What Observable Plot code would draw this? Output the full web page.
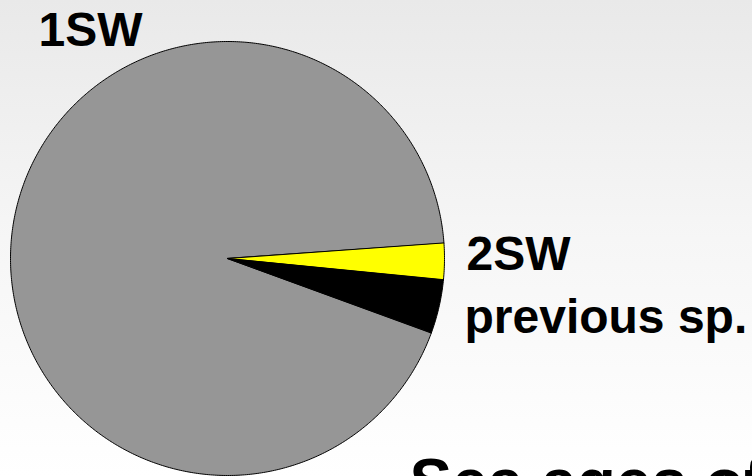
<!DOCTYPE html>
<html>
<head>
<meta charset="utf-8">
<script src="https://cdn.jsdelivr.net/npm/d3@7"></script>
<script src="https://cdn.jsdelivr.net/npm/@observablehq/plot@0.6"></script>
<style>
  html, body { margin: 0; padding: 0; overflow: hidden; background: #ffffff; }
  #chart { width: 752px; height: 476px; }
</style>
</head>
<body>
<div id="chart"></div>
<script>
// Sea-age composition of the spawners (percent)
const categories = ["1SW", "2SW", "previous sp."];
const shares = [93.3, 2.7, 4.0];
const colors = ["#969696", "#ffff00", "#000000"];
const title = "Sea ages of spawners";

// Pie layout: first slice starts at 110° clockwise from 12 o'clock
const pie = d3.pie().sort(null).startAngle(110 * Math.PI / 180)
  .endAngle((110 + 360) * Math.PI / 180);
const arcs = pie(shares);

// Each slice becomes a closed polygon in unit-circle coordinates
const step = Math.PI / 360;
const outline = arcs.flatMap((a, i) => {
  const pts = [{ cat: categories[i], x: 0, y: 0 }];
  const n = Math.max(2, Math.ceil((a.endAngle - a.startAngle) / step));
  for (let k = 0; k <= n; k++) {
    const t = a.startAngle + (a.endAngle - a.startAngle) * k / n;
    pts.push({ cat: categories[i], x: Math.sin(t), y: Math.cos(t) });
  }
  return pts;
});

const labelFont = { fontFamily: "Liberation Sans, Arial, sans-serif", fontWeight: "bold", fontSize: 48, fill: "#000" };

const chart = Plot.plot({
  width: 752,
  height: 476,
  margin: 0,
  style: { background: "linear-gradient(to bottom, #e9e9e9 0%, #f6f6f6 50%, #ffffff 100%)", overflow: "hidden" },
  x: { domain: [-1, 1], range: [10, 444], axis: null },
  y: { domain: [-1, 1], range: [475, 41], axis: null },
  color: { domain: categories, range: colors },
  marks: [
    Plot.line(outline, {
      x: "x", y: "y", z: "cat", fill: "cat",
      stroke: "#000", strokeWidth: 1, curve: "linear-closed", strokeLinejoin: "round"
    }),
    Plot.text([categories[0]], { text: d => d, frameAnchor: "top-left", textAnchor: "start", lineAnchor: "top", dx: 38, dy: 11, ...labelFont }),
    Plot.text([categories[1]], { text: d => d, frameAnchor: "top-left", textAnchor: "start", lineAnchor: "top", dx: 466, dy: 235, ...labelFont }),
    Plot.text([categories[2]], { text: d => d, frameAnchor: "top-left", textAnchor: "start", lineAnchor: "top", dx: 464, dy: 298, ...labelFont }),
    Plot.text([title], { text: d => d, frameAnchor: "top-left", textAnchor: "start", lineAnchor: "top", dx: 409, dy: 458,
      fontFamily: "Liberation Sans, Arial, sans-serif", fontWeight: "bold", fontSize: 64, fill: "#000" })
  ]
});
document.getElementById("chart").appendChild(chart);
</script>
</body>
</html>
